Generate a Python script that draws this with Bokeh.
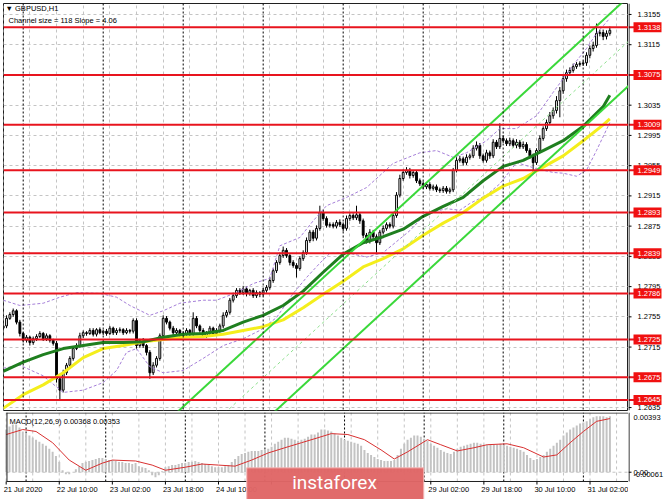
from bokeh.plotting import figure
from bokeh.layouts import column, row
from bokeh.models import Range1d, FixedTicker, Label, Span, ColumnDataSource, Grid
from bokeh.core.properties import value
from bokeh.embed import file_html
from bokeh.resources import INLINE

# ---------------- data (GBPUSD H1) ----------------
first_open = 1.2740
closes = [
    1.2743, 1.2753, 1.2758, 1.2763, 1.2748, 1.2733, 1.2724, 1.2728, 1.2721, 1.2726,
    1.2729, 1.2733, 1.2726, 1.2730, 1.2724, 1.2720, 1.2673, 1.2658, 1.2681, 1.2691,
    1.2700, 1.2713, 1.2717, 1.2730, 1.2734, 1.2733, 1.2737, 1.2732, 1.2738, 1.2734,
    1.2736, 1.2733, 1.2740, 1.2734, 1.2737, 1.2738, 1.2734, 1.2737, 1.2736, 1.2750,
    1.2717, 1.2724, 1.2717, 1.2708, 1.2681, 1.2691, 1.2700, 1.2730, 1.2753, 1.2748,
    1.2740, 1.2734, 1.2737, 1.2730, 1.2733, 1.2737, 1.2732, 1.2753, 1.2743, 1.2737,
    1.2730, 1.2734, 1.2740, 1.2733, 1.2737, 1.2743, 1.2757, 1.2761, 1.2777, 1.2783,
    1.2790, 1.2787, 1.2792, 1.2786, 1.2790, 1.2783, 1.2787, 1.2785, 1.2790, 1.2794,
    1.2803, 1.2816, 1.2827, 1.2836, 1.2843, 1.2836, 1.2827, 1.2823, 1.2819, 1.2832,
    1.2840, 1.2856, 1.2867, 1.2859, 1.2872, 1.2893, 1.2885, 1.2876, 1.2877, 1.2875,
    1.2880, 1.2877, 1.2872, 1.2885, 1.2889, 1.2886, 1.2890, 1.2882, 1.2863, 1.2856,
    1.2867, 1.2861, 1.2853, 1.2867, 1.2872, 1.2877, 1.2875, 1.2889, 1.2916, 1.2938,
    1.2946, 1.2949, 1.2942, 1.2946, 1.2935, 1.2931, 1.2927, 1.2930, 1.2925, 1.2927,
    1.2923, 1.2922, 1.2925, 1.2921, 1.2923, 1.2949, 1.2962, 1.2964, 1.2959, 1.2966,
    1.2968, 1.2978, 1.2982, 1.2968, 1.2962, 1.2972, 1.2968, 1.2986, 1.2980, 1.2991,
    1.2988, 1.2984, 1.2988, 1.2982, 1.2986, 1.2980, 1.2983, 1.2975, 1.2968, 1.2959,
    1.2975, 1.2991, 1.3004, 1.3012, 1.3021, 1.3028, 1.3041, 1.3054, 1.3070, 1.3078,
    1.3081, 1.3086, 1.3089, 1.3090, 1.3091, 1.3101, 1.3110, 1.3114, 1.3130, 1.3131,
    1.3126, 1.3130, 1.3134,
]
# upper / lower shadow lengths in pips
wick_up = [
    3, 4, 3, 3, 2, 3, 2, 3, 2, 3,  3, 3, 2, 3, 2, 2, 3, 2, 4, 3,
    3, 2, 3, 4, 3, 2, 3, 3, 2, 3,  2, 3, 3, 2, 3, 3, 2, 3, 2, 3,
    3, 2, 3, 2, 3, 4, 3, 3, 4, 3,  2, 3, 3, 2, 3, 3, 2, 8, 3, 2,
    3, 2, 3, 2, 3, 3, 4, 3, 3, 4,  3, 3, 4, 3, 2, 3, 3, 2, 3, 3,
    4, 3, 3, 4, 5, 3, 2, 3, 3, 3,  3, 4, 3, 3, 4, 9, 4, 3, 3, 3,
    3, 4, 3, 4, 3, 3, 12, 3, 3, 3, 4, 3, 3, 3, 4, 3, 3, 3, 4, 5,
    4, 4, 3, 3, 3, 3, 3, 3, 3, 3,  3, 3, 3, 3, 3, 3, 4, 4, 3, 4,
    3, 4, 5, 3, 3, 4, 3, 4, 3, 20, 4, 3, 4, 3, 4, 3, 4, 3, 3, 3,
    3, 4, 3, 4, 5, 4, 6, 5, 5, 4,  4, 4, 3, 3, 3, 4, 4, 5, 13, 4,
    4, 4, 5,
]
wick_dn = [
    3, 3, 2, 3, 3, 4, 3, 3, 4, 3,  3, 2, 3, 3, 3, 3, 5, 14, 3, 3,
    3, 3, 2, 3, 3, 3, 2, 3, 3, 2,  3, 3, 2, 3, 3, 3, 3, 2, 3, 3,
    4, 3, 3, 4, 8, 3, 3, 3, 3, 3,  3, 3, 2, 3, 3, 3, 3, 3, 3, 3,
    3, 3, 4, 3, 3, 3, 3, 3, 3, 3,  3, 3, 3, 4, 3, 3, 3, 4, 3, 3,
    3, 3, 3, 3, 3, 3, 4, 3, 12, 3, 3, 3, 3, 4, 3, 3, 3, 3, 3, 3,
    3, 3, 4, 3, 3, 3, 3, 4, 4, 4,  4, 3, 13, 3, 3, 3, 3, 3, 3, 3,
    3, 3, 4, 3, 3, 3, 3, 3, 3, 3,  3, 3, 3, 3, 3, 3, 3, 3, 4, 3,
    3, 3, 3, 4, 3, 3, 4, 3, 3, 3,  3, 3, 3, 3, 4, 3, 3, 3, 4, 14,
    3, 3, 3, 3, 3, 4, 4, 22, 4, 4, 3, 3, 3, 3, 3, 4, 4, 4, 3, 4,
    5, 4, 3,
]

levels = [1.3138, 1.3075, 1.3009, 1.2949, 1.2893, 1.2839, 1.2786, 1.2725, 1.2675, 1.2645]
price_ticks = [1.2635, 1.2675, 1.2715, 1.2755, 1.2795, 1.2835, 1.2875, 1.2915,
               1.2955, 1.2995, 1.3035, 1.3075, 1.3115, 1.3155]

ma_bars = [0, 6, 12, 18, 24, 30, 36, 42, 48, 54, 60, 66, 72, 78, 84, 90, 96, 102,
           108, 114, 120, 126, 132, 138, 144, 150, 156, 162, 168, 174, 180, 182]
ma_green = [1.2683, 1.2695, 1.2705, 1.2713, 1.2717, 1.2721, 1.2721, 1.2722, 1.2728,
            1.2732, 1.2733, 1.2737, 1.2748, 1.2757, 1.2770, 1.2789, 1.2814, 1.2838,
            1.2853, 1.2861, 1.2871, 1.2888, 1.2901, 1.2913, 1.2935, 1.2954, 1.2962,
            1.2975, 1.2988, 1.3007, 1.3033, 1.3048]
ma_yellow = [1.2634, 1.2652, 1.2665, 1.2681, 1.2701, 1.2713, 1.2717, 1.2722, 1.2725,
             1.2728, 1.2729, 1.2732, 1.2737, 1.2742, 1.2751, 1.2767, 1.2785, 1.2802,
             1.2821, 1.2832, 1.2845, 1.2863, 1.2879, 1.2893, 1.2912, 1.2928, 1.2938,
             1.2953, 1.2968, 1.2988, 1.3009, 1.3017]

bb_up_bars = [0, 5, 12, 17, 22, 29, 34, 38, 44, 48, 53, 60, 64, 70, 75, 80, 83, 89,
              93, 97, 103, 109, 117, 125, 130, 135, 139, 145, 149, 154, 160, 165,
              171, 175, 178, 182]
bb_up = [1.2777, 1.2770, 1.2773, 1.2781, 1.2787, 1.2786, 1.2781, 1.2770, 1.2757,
         1.2763, 1.2773, 1.2777, 1.2777, 1.2787, 1.2799, 1.2806, 1.2849, 1.2860,
         1.2882, 1.2902, 1.2913, 1.2926, 1.2958, 1.2972, 1.2975, 1.2966, 1.2972,
         1.2988, 1.3004, 1.3004, 1.3021, 1.3052, 1.3088, 1.3110, 1.3130, 1.3150]
bb_lo_bars = [0, 5, 12, 18, 24, 30, 34, 37, 40, 44, 48, 54, 60, 66, 72, 77, 82, 87,
              91, 95, 98, 103, 109, 114, 122, 127, 133, 137, 140, 145, 149, 154, 160,
              165, 168, 172, 175, 178, 182]
bb_lo = [1.2687, 1.2691, 1.2677, 1.2655, 1.2658, 1.2668, 1.2684, 1.2708, 1.2713,
         1.2689, 1.2681, 1.2684, 1.2700, 1.2717, 1.2726, 1.2737, 1.2754, 1.2786,
         1.2807, 1.2826, 1.2839, 1.2840, 1.2834, 1.2840, 1.2869, 1.2892, 1.2898,
         1.2896, 1.2905, 1.2916, 1.2931, 1.2959, 1.2951, 1.2946, 1.2945, 1.2941,
         1.2949, 1.2975, 1.3012]

channel_bars = [40, 190]
channel_mid = [1.25203, 1.31293]
channel_size = 0.0118  # "Channel size = 118"

macd_hist = [
    0.00281, 0.00301, 0.00314, 0.00314, 0.00294, 0.00268, 0.00254, 0.00241, 0.00227, 0.00214,
    0.00201, 0.00187, 0.00174, 0.00154, 0.00134, 0.00107, 0.00067, 0.00013, -0.00013, -0.00013,
    0.0, 0.00020, 0.00040, 0.00060, 0.00067, 0.00074, 0.00080, 0.00087, 0.00094, 0.00094,
    0.00087, 0.00080, 0.00080, 0.00074, 0.00067, 0.00067, 0.00060, 0.00060, 0.00054, 0.00060,
    0.00040, 0.00033, 0.00027, 0.00013, -0.00020, -0.00033, -0.00020, 0.00007, 0.00033, 0.00040,
    0.00047, 0.00047, 0.00054, 0.00060, 0.00060, 0.00067, 0.00067, 0.00074, 0.00067, 0.00060,
    0.00054, 0.00047, 0.00040, 0.00033, 0.00033, 0.00033, 0.00040, 0.00047, 0.00067, 0.00087,
    0.00107, 0.00120, 0.00127, 0.00134, 0.00140, 0.00140, 0.00140, 0.00147, 0.00147, 0.00154,
    0.00167, 0.00187, 0.00201, 0.00214, 0.00227, 0.00227, 0.00221, 0.00214, 0.00207, 0.00214,
    0.00221, 0.00234, 0.00248, 0.00248, 0.00261, 0.00281, 0.00281, 0.00274, 0.00268, 0.00254,
    0.00241, 0.00227, 0.00214, 0.00207, 0.00201, 0.00194, 0.00187, 0.00174, 0.00147, 0.00127,
    0.00114, 0.00100, 0.00087, 0.00080, 0.00074, 0.00074, 0.00074, 0.00080, 0.00114, 0.00154,
    0.00187, 0.00214, 0.00227, 0.00241, 0.00241, 0.00234, 0.00221, 0.00207, 0.00187, 0.00174,
    0.00161, 0.00147, 0.00134, 0.00127, 0.00120, 0.00134, 0.00154, 0.00167, 0.00174, 0.00181,
    0.00187, 0.00194, 0.00194, 0.00187, 0.00181, 0.00181, 0.00181, 0.00181, 0.00181, 0.00187,
    0.00181, 0.00174, 0.00167, 0.00161, 0.00154, 0.00147, 0.00134, 0.00114, 0.00094, 0.00080,
    0.00087, 0.00100, 0.00114, 0.00134, 0.00154, 0.00174, 0.00194, 0.00214, 0.00241, 0.00261,
    0.00281, 0.00294, 0.00308, 0.00321, 0.00328, 0.00335, 0.00348, 0.00361, 0.00368, 0.00368,
    0.00368, 0.00361, 0.00368,
]
signal_bars = [0, 5, 9, 14, 19, 24, 29, 32, 39, 44, 48, 54, 59, 64, 69, 74, 79, 84, 89,
               94, 98, 103, 108, 113, 117, 121, 127, 131, 136, 141, 145, 151, 156, 162,
               166, 170, 174, 178, 182]
signal_vals = [0.00248, 0.00281, 0.00268, 0.00194, 0.00080, 0.00013, 0.00060, 0.00080,
               0.00074, 0.00047, 0.00013, 0.00033, 0.00054, 0.00047, 0.00040, 0.00080,
               0.00127, 0.00161, 0.00194, 0.00227, 0.00254, 0.00248, 0.00214, 0.00147,
               0.00087, 0.00134, 0.00214, 0.00181, 0.00140, 0.00161, 0.00181, 0.00187,
               0.00161, 0.00100, 0.00114, 0.00194, 0.00268, 0.00335, 0.00353]
macd_max, macd_min = 0.00393, -0.00061

# time scale: every 16 bars; the labels at bars 80, 96, 112 are hidden by the watermark
time_tick_bars = [0, 16, 32, 48, 64, 80, 96, 112, 128, 144, 160, 176]
label_bars = [0, 16, 32, 48, 64, 128, 144, 160, 176]
time_labels = ["21 Jul 2020", "22 Jul 10:00", "23 Jul 02:00", "23 Jul 18:00",
               "24 Jul 10:00", "29 Jul 02:00", "29 Jul 18:00", "30 Jul 10:00",
               "31 Jul 02:00"]
grid_bars = [0, 8, 16, 24, 32, 40, 48, 56, 64, 72, 80, 88, 96, 104, 112, 120, 128,
             136, 144, 152, 160, 168, 176, 184]
day_bars = [6, 30, 54, 78, 102, 126, 150, 174]

# ---------------- derived candle columns ----------------
opens = [first_open] + closes[:-1]
highs = [max(o, c) + u * 0.0001 for o, c, u in zip(opens, closes, wick_up)]
lows = [min(o, c) - d * 0.0001 for o, c, d in zip(opens, closes, wick_dn)]
bars = list(range(len(closes)))
fills = ["white" if c >= o else "black" for o, c in zip(opens, closes)]
csrc = ColumnDataSource(dict(x=bars, o=opens, c=closes, h=highs, l=lows, f=fills))

FONT = value("Liberation Sans")
FS = "7.5px"
GRID_C = "#c4c4c4"
RED = "#e8141e"
x_range = Range1d(0.09, 187.6)          # price panel frame (3px .. 628px)
x_range_m = Range1d(-0.81, 187.6)       # MACD panel frame (0px .. 628px), same scale
price_range = Range1d(1.26311, 1.31695)
macd_range = Range1d(-0.001795, 0.00393)   # lower part of the frame holds the time scale


def base_fig(w, h, xr, yr, top, bottom, left):
    f = figure(width=w, height=h, x_range=xr, y_range=yr,
               x_axis_location=None, y_axis_location=None,
               toolbar_location=None, output_backend="svg",
               min_border_left=left, min_border_right=0,
               min_border_top=top, min_border_bottom=bottom,
               background_fill_color="white", border_fill_color="white")
    f.grid.visible = False
    return f


# ---------------- price panel ----------------
p = base_fig(628, 411, x_range, price_range, 3, 1, 3)
p.outline_line_color = "#202020"
p.add_layout(Grid(dimension=0, ticker=FixedTicker(ticks=grid_bars),
                  grid_line_color=GRID_C, grid_line_dash="3 3"))
p.add_layout(Grid(dimension=1, ticker=FixedTicker(ticks=price_ticks),
                  grid_line_color=GRID_C, grid_line_dash="3 3"))
for d in day_bars:
    p.add_layout(Span(location=d, dimension="height", line_color="black",
                      line_dash="2 2", line_width=1))

p.segment(x0="x", y0="h", x1="x", y1="l", source=csrc, line_color="black", line_width=1)
p.vbar(x="x", top="o", bottom="c", width=0.55, source=csrc, fill_color="f",
       line_color="black", line_width=1)

p.line(bb_up_bars, bb_up, line_color="#a57fd8", line_dash="3 2", line_width=1)
p.line(bb_lo_bars, bb_lo, line_color="#a57fd8", line_dash="3 2", line_width=1)

p.line(ma_bars, ma_yellow, line_color="#f4ee1c", line_width=3)
p.line(ma_bars, ma_green, line_color="#1f7f1f", line_width=3)

half = channel_size / 2
p.line(channel_bars, [m + half for m in channel_mid], line_color="#3ad83a", line_width=2)
p.line(channel_bars, [m - half for m in channel_mid], line_color="#3ad83a", line_width=2)
p.line(channel_bars, channel_mid, line_color="#8fe08f", line_width=1, line_dash="3 3")

for lv in levels:
    p.add_layout(Span(location=lv, dimension="width", line_color=RED, line_width=2))

p.add_layout(Label(x=0.7, y=1.31629, text="\u25bc GBPUSD,H1", text_font="Liberation Sans",
                   text_font_size=FS, text_color="black", text_baseline="middle"))
p.add_layout(Label(x=1.6, y=1.31470, text="Channel size = 118 Slope = 4.06",
                   text_font="Liberation Sans", text_font_size=FS, text_color="black",
                   text_baseline="middle"))

# ---------------- price scale (right) ----------------
pa = base_fig(37, 411, Range1d(0, 37), price_range, 3, 1, 0)
pa.outline_line_color = None
pa.add_layout(Span(location=0.5, dimension="height", line_color="black", line_width=1))
pa.segment(x0=0, y0=price_ticks, x1=3, y1=price_ticks, line_color="black", line_width=1)
pa.text(x=9, y=price_ticks, text=[f"{t:.4f}" for t in price_ticks], text_font=FONT,
        text_font_size=FS, text_color="black", text_baseline="middle", text_align="left")
pa.segment(x0=0, y0=levels, x1=6, y1=levels, line_color=RED, line_width=2)
pa.rect(x=19, y=levels, width=28, height=10, height_units="screen",
        fill_color="#f01010", line_color=None)
pa.text(x=9, y=levels, text=[f"{lv:.4f}" for lv in levels], text_font=FONT,
        text_font_size=FS, text_color="white", text_baseline="middle", text_align="left")

# ---------------- MACD panel ----------------
q = base_fig(628, 88, x_range_m, macd_range, 1, 0, 0)
q.outline_line_color = None
q.segment(x0=grid_bars, y0=macd_min, x1=grid_bars, y1=macd_max,
          line_color=GRID_C, line_dash="3 3", line_width=1)
q.segment(x0=day_bars, y0=macd_min, x1=day_bars, y1=macd_max,
          line_color="black", line_dash="2 2", line_width=1)
q.segment(x0=[0.09], y0=[0.0], x1=[187.6], y1=[0.0], line_color=GRID_C,
          line_dash="3 3", line_width=1)
q.vbar(x=bars, top=macd_hist, bottom=0, width=0.6, fill_color="#c3c3c3", line_color=None)
q.line(signal_bars, signal_vals, line_color="#d83030", line_width=1)
# panel frame
q.segment(x0=[0.09, 0.09], y0=[0.003897, macd_min], x1=[187.6, 187.6],
          y1=[0.003897, macd_min], line_color="#202020", line_width=1)
q.segment(x0=0.24, y0=macd_min, x1=0.24, y1=macd_max, line_color="#202020", line_width=1)
# time scale
q.segment(x0=time_tick_bars, y0=macd_min, x1=time_tick_bars, y1=-0.00081,
          line_color="black", line_width=1)
q.text(x=label_bars, y=-0.00115, text=time_labels, text_font=FONT, text_font_size=FS,
       text_color="black", text_baseline="middle", text_align="left", x_offset=-2.5)
q.add_layout(Label(x=1.0, y=0.00334, text="MACD(12,26,9) 0.00368 0.00353",
                   text_font="Liberation Sans", text_font_size=FS, text_color="black",
                   text_baseline="middle"))
# watermark
q.rect(x=99.2, y=-0.00083, width=177, height=34, width_units="screen",
       height_units="screen", fill_color="#e06666", fill_alpha=0.97,
       line_color="#f3b7b7", line_width=1)
q.text(x=86.2, y=-0.00068, text=["instaforex"], text_font=value("Roboto"),
       text_font_size="19px", text_color="white", text_baseline="middle",
       text_align="left")

# ---------------- MACD scale (right) ----------------
qa = base_fig(37, 88, Range1d(0, 37), macd_range, 1, 0, 0)
qa.outline_line_color = None
qa.segment(x0=0.5, y0=macd_min, x1=0.5, y1=macd_max, line_color="black", line_width=1)
qa.segment(x0=0, y0=[0.0], x1=3, y1=[0.0], line_color="black", line_width=1)
qa.text(x=5, y=[0.00360, 0.0, -0.00015], text=["0.00393", "0.00", "-0.00061"],
        text_font=FONT, text_font_size=FS, text_color="black", text_baseline="middle",
        text_align="left")

layout = row(column(p, q, spacing=0), column(pa, qa, spacing=0), spacing=0)

open("out.html", "w").write(file_html(layout, INLINE))
